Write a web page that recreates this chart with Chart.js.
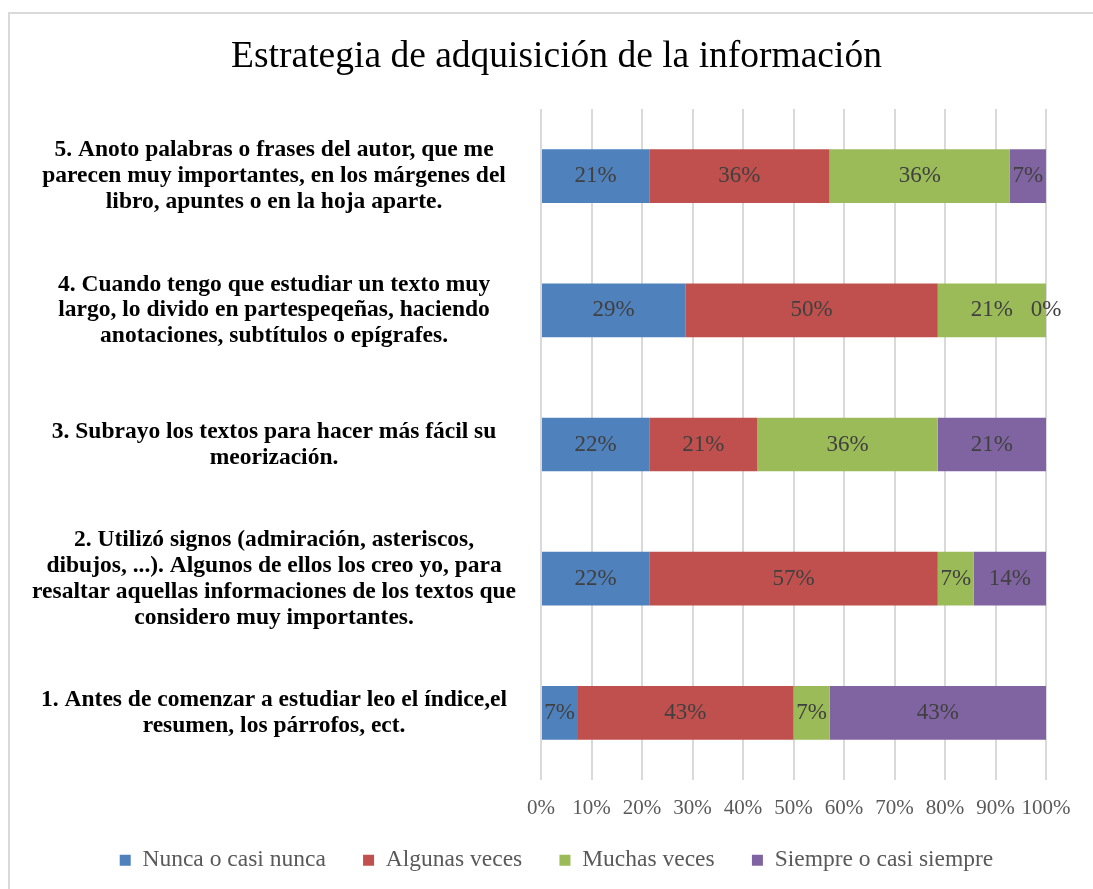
<!DOCTYPE html>
<html>
<head>
<meta charset="utf-8">
<script src="https://cdn.jsdelivr.net/npm/chart.js@4.4.1/dist/chart.umd.min.js"></script>
<style>
  body { margin: 0; overflow: hidden; background: #fff; }
  #frame { position: absolute; left: 8px; top: 12px; width: 2000px; height: 2000px;
           border-top: 2px solid #d9d9d9; border-left: 2px solid #d9d9d9; }
  #chart { position: absolute; left: 0; top: 0; }
</style>
</head>
<body>
<div id="frame"></div>
<canvas id="chart" width="1093" height="889"></canvas>
<script>
// preguntas (de arriba a abajo)
const preguntas = [
  ['5. Anoto palabras o frases del autor, que me', 'parecen muy importantes, en los márgenes del', 'libro, apuntes o en la hoja aparte.'],
  ['4. Cuando tengo que estudiar un texto muy', 'largo, lo divido en partespeqeñas, haciendo', 'anotaciones, subtítulos o epígrafes.'],
  ['3. Subrayo los textos para hacer más fácil su', 'meorización.'],
  ['2. Utilizó signos (admiración, asteriscos,', 'dibujos, ...). Algunos de ellos los creo yo, para', 'resaltar aquellas informaciones de los textos que', 'considero muy importantes.'],
  ['1. Antes de comenzar a estudiar leo el índice,el', 'resumen, los párrofos, ect.']
];

const series = ['Nunca o casi nunca', 'Algunas veces', 'Muchas veces', 'Siempre o casi siempre'];
const colores = ['#4f81bd', '#c0504d', '#9bbb59', '#8064a2'];

// largo de las barras (%)
const nunca    = [21.43, 28.57, 21.43, 21.43, 7.14];
const algunas  = [35.71, 50.00, 21.43, 57.14, 42.86];
const muchas   = [35.71, 21.43, 35.71, 7.14, 7.14];
const siempre  = [7.14, 0.00, 21.43, 14.29, 42.86];

// etiquetas que se ven en cada barra
const etqNunca   = ['21%', '29%', '22%', '22%', '7%'];
const etqAlgunas = ['36%', '50%', '21%', '57%', '43%'];
const etqMuchas  = ['36%', '21%', '36%', '7%', '7%'];
const etqSiempre = ['7%', '0%', '21%', '14%', '43%'];

const xTicks = ['0%', '10%', '20%', '30%', '40%', '50%', '60%', '70%', '80%', '90%', '100%'];

const valores = [nunca, algunas, muchas, siempre];
const etiquetas = [etqNunca, etqAlgunas, etqMuchas, etqSiempre];

const serif = "'Liberation Serif', 'Times New Roman', serif";

// dibuja los % en el centro de cada tramo
const barLabels = {
  id: 'barLabels',
  afterDatasetsDraw(chart) {
    const ctx = chart.ctx;
    ctx.save();
    ctx.font = '23px ' + serif;
    ctx.fillStyle = '#404040';
    ctx.textAlign = 'center';
    ctx.textBaseline = 'middle';
    chart.data.datasets.forEach((ds, i) => {
      const meta = chart.getDatasetMeta(i);
      meta.data.forEach((bar, j) => {
        ctx.fillText(etiquetas[i][j], (bar.x + bar.base) / 2, bar.y);
      });
    });
    ctx.restore();
  }
};

const ctx = document.getElementById('chart').getContext('2d');
const chart = new Chart(ctx, {
  type: 'bar',
  data: {
    labels: preguntas,
    datasets: series.map((s, i) => ({
      label: s,
      data: valores[i],
      backgroundColor: colores[i],
      borderWidth: 0,
      categoryPercentage: 1,
      barPercentage: 0.4
    }))
  },
  options: {
    indexAxis: 'y',
    responsive: false,
    animation: false,
    layout: { padding: { left: 20, right: 0, top: 0, bottom: 7 } },
    plugins: {
      title: {
        display: true,
        text: 'Estrategia de adquisición de la información',
        color: '#000',
        font: { family: serif, size: 37.5, weight: 'normal' },
        padding: { top: 35, bottom: 29 }
      },
      legend: {
        position: 'bottom',
        labels: {
          boxWidth: 11,
          boxHeight: 11,
          padding: 25.5,
          color: '#595959',
          font: { family: serif, size: 23.5 },
          // dos espacios al final para separar mas los items
          generateLabels: (c) => {
            const items = Chart.defaults.plugins.legend.labels.generateLabels(c);
            return items.map((l, i) => (i < items.length - 1 ? { ...l, text: l.text + '\u00a0\u00a0' } : l));
          }
        }
      },
      tooltip: { enabled: false }
    },
    scales: {
      x: {
        stacked: true,
        min: 0,
        max: 100,
        border: { display: false },
        grid: { color: '#d9d9d9', lineWidth: 2, drawTicks: false },
        afterFit: (scale) => { scale.paddingRight = 47; scale.height = 43; },
        ticks: {
          stepSize: 10,
          padding: 16,
          maxRotation: 0,
          minRotation: 0,
          autoSkip: false,
          color: '#595959',
          font: { family: serif, size: 21 },
          callback: (v, i) => xTicks[i]
        }
      },
      y: {
        stacked: true,
        border: { display: false },
        grid: { display: false, drawTicks: false },
        afterFit: (scale) => { scale.width = 521; },
        ticks: {
          crossAlign: 'center',
          padding: 25,
          color: '#000',
          font: { family: serif, size: 23.5, weight: 'bold', lineHeight: 1.1 }
        }
      }
    }
  },
  plugins: [barLabels]
});
</script>
</body>
</html>
